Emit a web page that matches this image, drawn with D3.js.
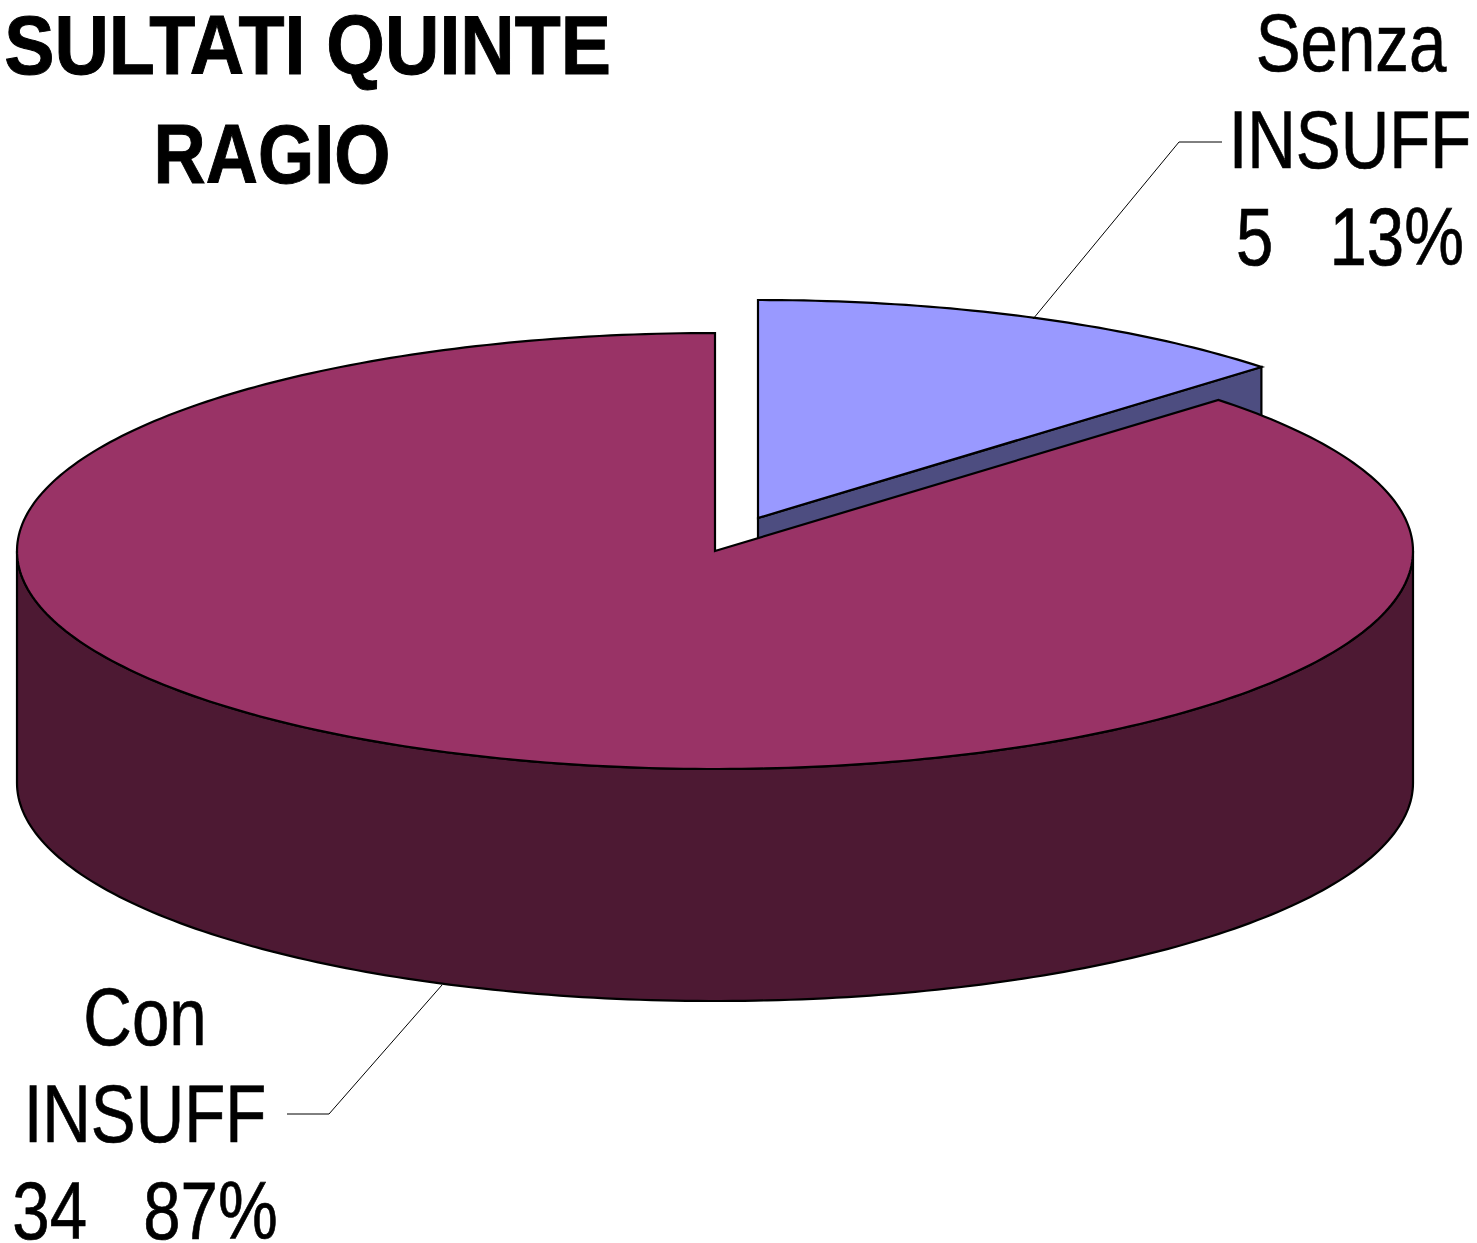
<!DOCTYPE html>
<html><head><meta charset="utf-8">
<script src="https://cdn.jsdelivr.net/npm/d3@7/dist/d3.min.js"></script>
<style>html,body{margin:0;padding:0;background:#fff;overflow:hidden}svg{display:block}text{font-family:"Liberation Sans",Arial,sans-serif;fill:#000}</style>
</head><body><svg id="c" width="1477" height="1243"></svg>
<script>
const categories = ["Senza INSUFF", "Con INSUFF"];
const counts = [5, 34];
const percents = ["13%", "87%"];
const topColors = ["#9999FF", "#993366"];
const sideColors = ["#4D4D80", "#4D1933"];
const titleLines = ["RISULTATI QUINTE", "RAGIO"];

const svg = d3.select("#c");
const cx = 715, cy = 551, rx = 698, ry = 218, depth = 232;
const explode = {dx: 43, dy: -33};
const sx = d3.scaleLinear().domain([-1, 1]).range([cx - rx, cx + rx]);
const sy = d3.scaleLinear().domain([-1, 1]).range([cy - ry, cy + ry]);

const pie = d3.pie().sort(null).value(d => d)(counts);
const stroke = "#000", sw = 2.2;

function arcPoints(a0, a1) {
  const n = Math.max(2, Math.ceil((a1 - a0) * 60));
  return d3.range(n + 1).map(i => {
    const t = a0 + (a1 - a0) * i / n;
    return [Math.sin(t), -Math.cos(t)];
  });
}
const line = d3.line().x(p => sx(p[0])).y(p => sy(p[1]));

function drawSlice(i, off) {
  const p = pie[i];
  const g = svg.append("g").attr("transform", `translate(${off.dx},${off.dy})`);
  const top = arcPoints(p.startAngle, p.endAngle);
  const frontStart = Math.max(p.startAngle, Math.PI / 2);
  const frontEnd = Math.min(p.endAngle, Math.PI * 1.5);
  if (i === 0) {
    const e = top[top.length - 1];
    const d = "M" + [[0, 0], e].map(q => [sx(q[0]), sy(q[1])]).join("L") +
      "L" + [sx(e[0]), sy(e[1]) + depth] + "L" + [sx(0), sy(0) + depth] + "Z";
    g.append("path").attr("d", d).attr("fill", sideColors[i]).attr("stroke", stroke).attr("stroke-width", sw);
  }
  if (frontEnd > frontStart) {
    const pts = arcPoints(frontStart, frontEnd);
    const upper = pts.map(q => [sx(q[0]), sy(q[1])]);
    const lower = pts.slice().reverse().map(q => [sx(q[0]), sy(q[1]) + depth]);
    g.append("path").attr("d", "M" + upper.concat(lower).join("L") + "Z")
      .attr("fill", sideColors[i]).attr("stroke", stroke).attr("stroke-width", sw);
  }
  g.append("path").attr("d", line([[0, 0]].concat(top)) + "Z")
    .attr("fill", topColors[i]).attr("stroke", stroke).attr("stroke-width", sw).attr("stroke-linejoin", "miter");
}
drawSlice(0, explode);
drawSlice(1, {dx: 0, dy: 0});

const leader = d3.line();
svg.append("path").attr("d", leader([[1222,142],[1179,142],[1033,319]])).attr("fill","none").attr("stroke","#000").attr("stroke-width",1);
svg.append("path").attr("d", leader([[287,1114],[329,1114],[442,985]])).attr("fill","none").attr("stroke","#000").attr("stroke-width",1);

function label(str, x, y, size, weight, sxf, thick, anchor) {
  svg.append("text").attr("transform", `translate(${x},${y}) scale(${sxf},1)`)
    .attr("text-anchor", anchor || "middle").attr("font-size", size).attr("font-weight", weight)
    .attr("stroke", "#000").attr("stroke-width", thick)
    .style("white-space","pre").text(str);
}
const fs = 82, sc = 0.82, th = 0.7;
label(titleLines[0], 611, 74, 84, "bold", 0.897, 1, "end");
label(titleLines[1], 272, 183, 84, "bold", 0.86, 1);
label("Senza", 1351, 71, fs, "normal", sc, th);
label("INSUFF", 1350, 168, fs, "normal", sc, th);
label(counts[0] + "   " + percents[0], 1350, 265, fs, "normal", sc, th);
label("Con", 145, 1045, fs, "normal", sc, th);
label("INSUFF", 145, 1142, fs, "normal", sc, th);
label(counts[1] + "   " + percents[1], 145, 1239, fs, "normal", sc, th);
</script></body></html>
